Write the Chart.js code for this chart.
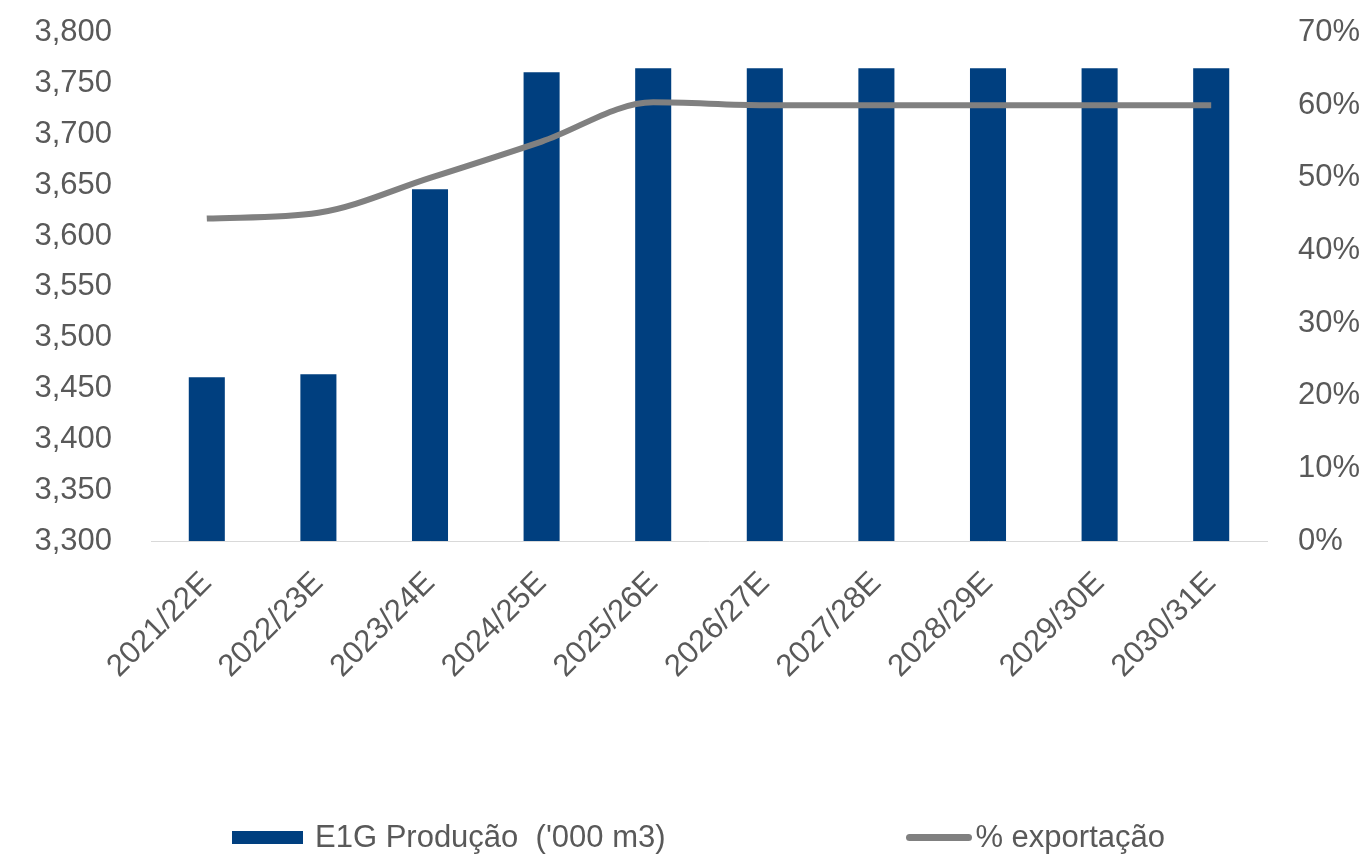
<!DOCTYPE html>
<html><head><meta charset="utf-8">
<script src="https://cdn.jsdelivr.net/npm/chart.js@4/dist/chart.umd.min.js"></script>
<style>
html,body{margin:0;padding:0;background:#fff;overflow:hidden;}
#wrap{position:relative;width:1369px;height:855px;overflow:hidden;}
#c{position:absolute;left:0;top:-25px;}
#legend{position:absolute;left:0;top:819px;width:1369px;height:36px;font-family:"Liberation Sans",Arial,sans-serif;font-size:31px;color:#595959;}
.item{position:absolute;top:0;display:flex;align-items:center;height:36px;white-space:pre;}
.box{display:inline-block;width:71px;height:13px;background:#003F7F;margin-right:12px;}
.ln{display:inline-block;width:66px;height:7px;border-radius:4px;background:#808080;margin-right:3px;}
</style></head>
<body><div id="wrap"><canvas id="c" width="1369" height="880"></canvas>
<div id="legend"></div></div>
<script>
const categories = ["2021/22E","2022/23E","2023/24E","2024/25E","2025/26E","2026/27E","2027/28E","2028/29E","2029/30E","2030/31E"];
const productionValues = [3461, 3464, 3646, 3761, 3765, 3765, 3765, 3765, 3765, 3765];
const exportPct = [44.4, 45.2, 50.0, 55.0, 60.4, 60.0, 60.0, 60.0, 60.0, 60.0];
const leftTicks = [3300,3350,3400,3450,3500,3550,3600,3650,3700,3750,3800];
const rightTicks = [0,10,20,30,40,50,60,70];
const barLabel = "E1G Produção  ('000 m3)";
const lineLabel = "% exportação";

const FONT = "'Liberation Sans',Arial,sans-serif";
const GREY = "#595959";
const FS = 31;

new Chart(document.getElementById('c'), {
  data: {
    labels: categories,
    datasets: [
      { type:'line', label: lineLabel, data: exportPct, yAxisID:'y1', borderColor:'#808080', borderWidth:6,
        pointRadius:0, tension:0.4, cubicInterpolationMode:'monotone', fill:false, order:0 },
      { type:'bar', label: barLabel, data: productionValues, yAxisID:'y', backgroundColor:'#003F7F',
        barPercentage:0.323, categoryPercentage:1.0, order:1 }
    ]
  },
  options: {
    responsive:false, animation:false,
    layout:{ padding:{ top:5, left:0, right:0, bottom:0 } },
    plugins:{ legend:{display:false}, tooltip:{enabled:false} },
    scales:{
      x:{ grid:{display:false, drawTicks:false}, border:{display:true, color:'#D9D9D9', width:1},
          ticks:{ color:GREY, font:{family:FONT, size:FS}, maxRotation:45, minRotation:45, autoSkip:false, padding:24 },
          afterFit(s){ s.height = 880-566; } },
      y:{ position:'left', min:3300, max:3800, grid:{display:false, drawTicks:false}, border:{display:false},
          afterBuildTicks(s){ s.ticks = leftTicks.map(v=>({value:v})); },
          ticks:{ color:GREY, font:{family:FONT, size:FS}, padding:39,
                  callback:(v)=> v.toLocaleString('en-US') },
          afterFit(s){ s.width = 151; } },
      y1:{ position:'right', min:0, max:70, grid:{display:false, drawTicks:false}, border:{display:false},
          afterBuildTicks(s){ s.ticks = rightTicks.map(v=>({value:v})); },
          ticks:{ color:GREY, font:{family:FONT, size:FS}, padding:31, callback:(v)=> v + '%' },
          afterFit(s){ s.width = 1369-1267; } }
    }
  }
});

const lg = document.getElementById('legend');
lg.innerHTML = '<div class="item" style="left:232px"><span class="box"></span>' + barLabel + '</div>' +
               '<div class="item" style="right:204px"><span class="ln"></span>' + lineLabel + '</div>';
</script></body></html>
